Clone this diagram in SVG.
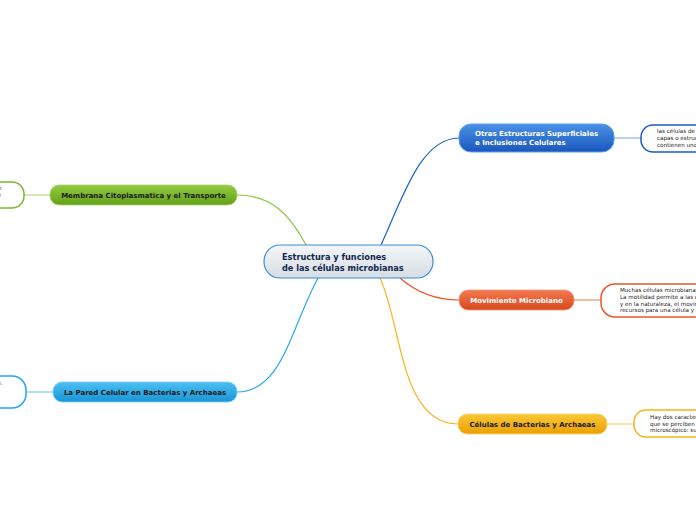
<svg xmlns="http://www.w3.org/2000/svg" width="696" height="520" viewBox="0 0 696 520">
<defs>
<linearGradient id="gc" x1="0" y1="0" x2="0" y2="1"><stop offset="0" stop-color="#f4f6f8"/><stop offset="1" stop-color="#d6dde4"/></linearGradient>
<linearGradient id="gb" x1="0" y1="0" x2="0" y2="1"><stop offset="0" stop-color="#4a92e6"/><stop offset="1" stop-color="#1a56bc"/></linearGradient>
<linearGradient id="go" x1="0" y1="0" x2="0" y2="1"><stop offset="0" stop-color="#f47a50"/><stop offset="1" stop-color="#d8481e"/></linearGradient>
<linearGradient id="gy" x1="0" y1="0" x2="0" y2="1"><stop offset="0" stop-color="#fbc837"/><stop offset="1" stop-color="#e9a004"/></linearGradient>
<linearGradient id="gg" x1="0" y1="0" x2="0" y2="1"><stop offset="0" stop-color="#94cc40"/><stop offset="1" stop-color="#62a01a"/></linearGradient>
<linearGradient id="gl" x1="0" y1="0" x2="0" y2="1"><stop offset="0" stop-color="#4cc0f2"/><stop offset="1" stop-color="#1795d6"/></linearGradient>
</defs>
<style>
.t{font-family:"DejaVu Sans","Verdana",sans-serif;font-weight:bold;font-size:7px}
.n{font-family:"DejaVu Sans","Verdana",sans-serif;font-size:5.6px;fill:#222}
.c{fill:none;stroke-width:1.2}
.note{fill:#fff;stroke-width:1.5}
</style>
<rect width="696" height="520" fill="#fff"/>
<g id="connectors">
<path class="c" stroke="#8cc63f" d="M237,195 C272,195 290,215 306,245"/>
<path class="c" stroke="#1a62c8" d="M381,245 C402,200 420,138 459,138"/>
<path class="c" stroke="#e8582a" d="M400,278 C416,292 436,300 459,300"/>
<path class="c" stroke="#f4b41a" d="M380,278 C402,325 400,424 458,424"/>
<path class="c" stroke="#2aaae8" d="M318,278 C290,330 282,392 237,392"/>
<line class="c" stroke="#8ab8ec" x1="614" y1="138" x2="641" y2="138"/>
<line class="c" stroke="#f0906a" x1="574" y1="300" x2="601" y2="300"/>
<line class="c" stroke="#f8d070" x1="607" y1="424" x2="634" y2="424"/>
<line class="c" stroke="#b8dc80" x1="24" y1="195" x2="50" y2="195"/>
<line class="c" stroke="#80ccf2" x1="26" y1="392" x2="53" y2="392"/>
</g>
<g id="central">
<rect x="264" y="245" width="169" height="33" rx="16" fill="url(#gc)" stroke="#3a8cd0" stroke-width="1.2"/>
<text x="282" y="260" class="t" style="font-size:8.2px" fill="#13284e">Estructura y funciones</text>
<text x="282" y="271" class="t" style="font-size:8.2px" fill="#13284e">de las células microbianas</text>
</g>
<g id="otras">
<rect x="459" y="124" width="155" height="28" rx="12" fill="url(#gb)" stroke="#5aa0ee" stroke-width="1"/>
<text x="475" y="136" class="t" fill="#fff">Otras Estructuras Superficiales</text>
<text x="475" y="145" class="t" fill="#fff">e Inclusiones Celulares</text>
</g>
<g id="otras-note">
<rect x="641" y="125" width="80" height="27" rx="12" class="note" stroke="#1a5cc4"/>
<text x="657" y="133" class="n">las células de</text>
<text x="657" y="140" class="n">capas o estruc</text>
<text x="657" y="147" class="n">contienen uno</text>
</g>
<g id="movimiento">
<rect x="459" y="290" width="115" height="20" rx="9" fill="url(#go)" stroke="#f49a78" stroke-width="0.8"/>
<text x="516.5" y="302.5" class="t" fill="#fff" text-anchor="middle">Movimiento Microbiano</text>
</g>
<g id="movimiento-note">
<rect x="601" y="284" width="120" height="33" rx="14" class="note" stroke="#e8582a"/>
<text x="620" y="292" class="n">Muchas células microbianas</text>
<text x="620" y="299" class="n">La motilidad permite a las c</text>
<text x="620" y="305.5" class="n">y en la naturaleza, el movin</text>
<text x="620" y="312" class="n">recursos para una célula y r</text>
</g>
<g id="celulas">
<rect x="458" y="414" width="149" height="20" rx="9" fill="url(#gy)" stroke="#fbd470" stroke-width="0.8"/>
<text x="532.5" y="427" class="t" fill="#1a1a1a" text-anchor="middle">Células de Bacterias y Archaeas</text>
</g>
<g id="celulas-note">
<rect x="634" y="410" width="90" height="27" rx="12" class="note" stroke="#f4b41a"/>
<text x="650" y="419" class="n">Hay dos caracter</text>
<text x="650" y="425.5" class="n">que se perciben</text>
<text x="650" y="432" class="n">microscópico: su</text>
</g>
<g id="membrana">
<rect x="50" y="185" width="187" height="20" rx="9" fill="url(#gg)" stroke="#a8d468" stroke-width="0.8"/>
<text x="143.5" y="198" class="t" fill="#1a1a1a" text-anchor="middle">Membrana Citoplasmatica y el Transporte</text>
</g>
<g id="membrana-note">
<rect x="-60" y="182" width="84" height="26" rx="12" class="note" stroke="#7ab82a"/>
<text x="-2" y="190" class="n">e</text>
<text x="-6" y="197" class="n">ue</text>
</g>
<g id="pared">
<rect x="53" y="382" width="184" height="20" rx="9" fill="url(#gl)" stroke="#80d0f6" stroke-width="0.8"/>
<text x="145" y="395" class="t" fill="#1a1a1a" text-anchor="middle">La Pared Celular en Bacterias y Archaeas</text>
</g>
<g id="pared-note">
<rect x="-60" y="376" width="86" height="32" rx="14" class="note" stroke="#20a8e8"/>
<text x="-3" y="385" class="n">0.</text>
<text x="-3" y="391" class="n">–</text>
</g>
</svg>
